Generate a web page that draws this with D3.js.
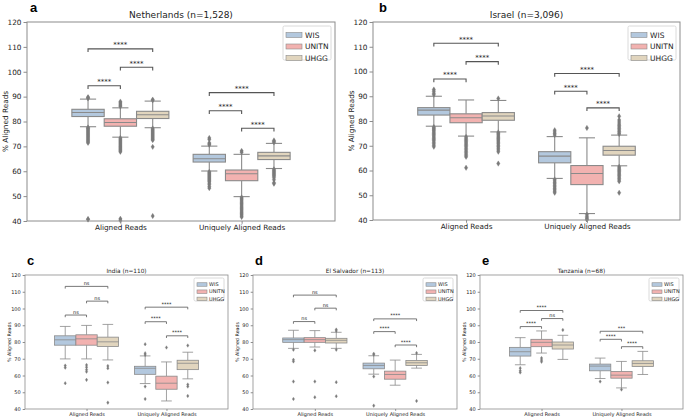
<!DOCTYPE html>
<html><head><meta charset="utf-8">
<script src="https://cdn.jsdelivr.net/npm/d3@7"></script>
<style>body{margin:0;background:#fff}svg{display:block}text{font-family:"DejaVu Sans",sans-serif;fill:#222}</style>
</head><body><svg id="chart" width="685" height="417"></svg>
<script>
const sources=["WIS","UNITN","UHGG"];
const metrics=["Aligned Reads","Uniquely Aligned Reads"];
const yTicks=[40,50,60,70,80,90,100,110,120];
const panelLetters=["a","b","c","d","e"];
const panelTitles=["Netherlands (n=1,528)","Israel (n=3,096)","India (n=110)","El Salvador (n=113)","Tanzania (n=68)"];
const sourceColors=["#b3c8de","#f2b2b0","#e1d5be"];

// [metric, source, whiskerLow, q1, median, q3, whiskerHigh]
const netherlandsBoxes=[
 [0,0,77.9,82.0,83.6,84.9,89.0],[0,1,73.7,78.1,79.6,81.1,85.5],[0,2,77.5,81.2,82.7,84.1,88.2],
 [1,0,60.1,63.7,65.0,66.8,70.1],[1,1,49.8,56.2,59.0,60.5,66.8],[1,2,61.1,64.7,66.2,67.6,71.2]];
const netherlandsOutliers=[
 [89.8,89.5,89.3,77.6,77.3,77.0,76.6,76.2,75.8,75.4,75.0,74.6,74.2,73.8,73.4,73.0,72.6,72.2,71.8,71.4,40.8,40.6],
 [88.0,87.5,87.0,86.5,86.0,73.4,73.0,72.6,72.2,71.8,71.4,71.0,70.6,70.2,69.8,69.4,69.0,68.6,68.2,67.8,40.9,40.3],
 [88.8,88.5,77.2,76.8,76.4,76.0,75.6,75.2,74.8,74.4,74.0,73.6,73.2,72.8,72.5,69.8,42.0],
 [73.4,72.8,71.4,71.0,70.6,59.8,59.4,59.0,58.6,58.2,57.8,57.4,57.0,56.6,56.2,55.8,55.2,54.6,53.8,53.2],
 [68.2,67.6,49.5,49.0,48.5,48.0,47.5,47.0,46.5,46.0,45.5,45.0,44.5,44.0,43.5,43.0,42.5,42.0,41.6],
 [72.4,72.0,71.6,60.8,60.4,60.0,59.6,59.2,58.8,58.4,58.0,57.4,56.6,55.4,55.0]];
const netherlandsBrackets=[[0,0,1,94.4,"****"],[0,1,2,101.8,"****"],[0,0,2,109.2,"****"],
 [1,0,1,84.3,"****"],[1,1,2,77.3,"****"],[1,0,2,91.6,"****"]];

const israelBoxes=[
 [0,0,77.9,82.4,84.4,85.4,90.0],[0,1,73.9,79.3,81.3,82.9,88.5],[0,2,75.6,80.3,82.0,83.4,88.3],
 [1,0,56.8,63.1,65.8,67.6,73.7],[1,1,42.6,54.3,58.8,62.0,73.2],[1,2,61.9,66.2,68.1,69.8,74.3]];
const israelOutliers=[
 [92.7,92.0,91.2,90.6,77.6,77.2,76.8,76.4,76.0,75.5,75.0,74.5,74.0,73.5,73.0,72.5,72.0,71.4,70.8,70.2,69.6],
 [73.6,73.1,72.6,72.1,71.6,71.1,70.6,70.1,69.6,69.0,68.4,67.8,67.2,66.6,66.0,65.5,61.1],
 [89.1,75.4,74.9,74.4,73.9,73.4,72.9,72.4,71.9,71.4,70.8,70.2,69.6,69.0,68.3,67.6,62.8],
 [76.3,75.6,74.9,74.3,56.4,55.8,55.2,54.6,54.0,53.4,52.8,52.2,51.6,51.0],
 [77.2,42.2,41.5,40.9,40.4,40.1],
 [81.9,80.4,79.6,78.8,78.2,77.6,77.0,76.4,75.8,75.2,74.7,61.5,61.0,60.5,60.0,59.5,59.0,58.5,58.0,57.4,56.8,56.2,55.6,51.0]];
const israelBrackets=[[0,0,1,97.0,"****"],[0,1,2,104.0,"****"],[0,0,2,111.4,"****"],
 [1,0,1,92.0,"****"],[1,1,2,85.3,"****"],[1,0,2,99.2,"****"]];

const indiaBoxes=[
 [0,0,69.9,78.1,81.3,83.7,89.3],[0,1,69.9,78.1,81.9,84.3,89.9],[0,2,69.3,77.3,80.1,82.9,90.5],
 [1,0,55.2,60.7,64.3,65.5,71.7],[1,1,44.8,51.8,55.4,59.6,68.1],[1,2,58.0,63.5,67.3,69.1,73.9]];
const indiaOutliers=[[65.9,64.7,55.4],[66.3,65.0,63.5,62.3,57.4],[65.7,64.3,55.8,43.8],
 [78.7,73.3,72.3,53.4,46.0],[76.7],[77.9,54.6,53.4,47.8]];
const indiaBrackets=[[0,0,1,96.1,"ns"],[0,1,2,104.4,"ns"],[0,0,2,113.2,"ns"],
 [1,0,1,92.1,"****"],[1,1,2,83.7,"****"],[1,0,2,100.8,"****"]];

const elSalvadorBoxes=[
 [0,0,76.2,79.8,81.4,82.4,87.0],[0,1,77.0,79.8,81.4,82.6,86.8],[0,2,76.2,79.4,81.0,82.2,85.8],
 [1,0,60.8,64.0,66.0,67.4,71.8],[1,1,54.2,57.8,60.6,62.6,69.2],[1,2,64.4,66.0,67.6,69.0,72.6]];
const elSalvadorOutliers=[[75.4,69.4,68.4,56.4,46.0],[75.0,56.4,47.0],[87.4,86.6,75.4,56.0,47.6],
 [73.0,72.4,59.4,42.0],[],[73.4,44.8]];
const elSalvadorBrackets=[[0,0,1,92.2,"ns"],[0,1,2,100.2,"ns"],[0,0,2,108.0,"ns"],
 [1,0,1,86.2,"****"],[1,1,2,78.2,"****"],[1,0,2,93.8,"****"]];

const tanzaniaBoxes=[
 [0,0,66.4,71.6,74.2,76.8,82.6],[0,1,73.4,77.2,79.8,81.6,86.6],[0,2,69.6,75.8,78.2,80.0,84.0],
 [1,0,58.2,62.8,65.6,66.8,70.4],[1,1,52.6,58.4,60.2,62.4,68.4],[1,2,60.6,65.4,67.2,68.8,74.4]];
const tanzaniaOutliers=[[64.4,62.8,61.8],[70.4,69.2,68.2],[87.2],[56.4],[51.6],[]];
const tanzaniaBrackets=[[0,0,1,89.2,"****"],[0,1,2,94.0,"ns"],[0,0,2,98.8,"****"],
 [1,0,1,81.6,"****"],[1,1,2,77.2,"****"],[1,0,2,86.4,"***"]];

const panelBoxes=[netherlandsBoxes,israelBoxes,indiaBoxes,elSalvadorBoxes,tanzaniaBoxes];
const panelOutliers=[netherlandsOutliers,israelOutliers,indiaOutliers,elSalvadorOutliers,tanzaniaOutliers];
const panelBrackets=[netherlandsBrackets,israelBrackets,indiaBrackets,elSalvadorBrackets,tanzaniaBrackets];

// layout (positions / styles)
const layout=[
 {l:27,r:335,t:22,b:221,big:true,lx:30,ly:12},
 {l:373,r:680,t:22,b:220,big:true,lx:379,ly:12},
 {l:25,r:228,t:275,b:409,big:false,lx:27,ly:265},
 {l:253,r:457,t:275,b:409,big:false,lx:255,ly:265},
 {l:480,r:683,t:275,b:409,big:false,lx:482,ly:265}];
const styleBig={tick:7.3,title:9,legend:7.5,ylab:7.3,sig:7,lw:1.1,mh:2.7,mw:1.7,tl:3.5,xlab:10,ylabOff:22,titleOff:4,
  leg:{w:48,h:34,dx:4,dy:4,row0:9,row:11.5,pw:16,ph:5,px:3,tx:22}};
const styleSmall={tick:5,title:5.8,legend:5,ylab:4.8,sig:5,lw:0.8,mh:1.8,mw:1.2,tl:2.3,xlab:6.5,ylabOff:16,titleOff:2.5,
  leg:{w:30,h:23,dx:4,dy:3,row0:6.5,row:7.2,pw:10,ph:3.5,px:3,tx:15}};
const lineColor="#8a8a8a", frameColor="#8c8c8c";

const svg=d3.select("#chart");
layout.forEach((L,pi)=>{
  const S=L.big?styleBig:styleSmall;
  const x=d3.scaleLinear().domain([-0.77,1.77]).range([L.l,L.r]);
  const y=d3.scaleLinear().domain([40,120]).range([L.b,L.t]);
  const g=svg.append("g");
  const bw=(x(1)-x(0))*0.8/3;
  const bx=(m,s)=>x(m)-(x(1)-x(0))*0.4+s*bw;
  const cid="clip"+pi;
  g.append("clipPath").attr("id",cid).append("rect").attr("x",L.l).attr("y",L.t-2).attr("width",L.r-L.l).attr("height",L.b-L.t+4);
  const pg=g.append("g").attr("clip-path",`url(#${cid})`);
  // boxes
  panelBoxes[pi].forEach((d,i)=>{
    const [m,s,lo,q1,med,q3,hi]=d;
    const x0=bx(m,s), xc=x0+bw/2, cw=bw*0.5;
    const bg=pg.append("g").attr("stroke",lineColor).attr("stroke-width",S.lw).attr("fill","none");
    bg.append("line").attr("x1",xc).attr("x2",xc).attr("y1",y(q3)).attr("y2",y(hi));
    bg.append("line").attr("x1",xc).attr("x2",xc).attr("y1",y(q1)).attr("y2",y(lo));
    bg.append("line").attr("x1",xc-cw/2).attr("x2",xc+cw/2).attr("y1",y(hi)).attr("y2",y(hi));
    bg.append("line").attr("x1",xc-cw/2).attr("x2",xc+cw/2).attr("y1",y(lo)).attr("y2",y(lo));
    bg.append("rect").attr("x",x0).attr("width",bw).attr("y",y(q3)).attr("height",y(q1)-y(q3)).attr("fill",sourceColors[s]);
    bg.append("line").attr("x1",x0).attr("x2",x0+bw).attr("y1",y(med)).attr("y2",y(med));
    const outs=panelOutliers[pi][m*3+s];
    pg.selectAll(null).data(outs).enter().append("path")
      .attr("d",v=>`M${xc},${y(v)-S.mh}L${xc+S.mw},${y(v)}L${xc},${y(v)+S.mh}L${xc-S.mw},${y(v)}Z`)
      .attr("fill","#7a7a7a").attr("stroke","#7a7a7a").attr("stroke-width",0.3);
  });
  // frame
  g.append("rect").attr("x",L.l).attr("y",L.t).attr("width",L.r-L.l).attr("height",L.b-L.t)
   .attr("fill","none").attr("stroke",frameColor).attr("stroke-width",L.big?1:0.8);
  // y axis
  const ya=g.append("g").attr("transform",`translate(${L.l},0)`)
    .call(d3.axisLeft(y).tickValues(yTicks).tickSize(S.tl).tickPadding(2));
  ya.select(".domain").remove();
  ya.selectAll("line").attr("stroke",frameColor);
  ya.selectAll("text").attr("font-size",S.tick).attr("fill","#222").style("font-family","DejaVu Sans");
  // x axis
  const xa=g.append("g").attr("transform",`translate(0,${L.b})`)
    .call(d3.axisBottom(x).tickValues([0,1]).tickFormat((d)=>metrics[d]).tickSize(S.tl*0.8).tickPadding(1.5));
  xa.select(".domain").remove();
  xa.selectAll("line").attr("stroke",frameColor);
  xa.selectAll("text").attr("font-size",S.tick).attr("fill","#222").style("font-family","DejaVu Sans");
  // title, y label, letter
  g.append("text").attr("x",(L.l+L.r)/2).attr("y",L.t-S.titleOff).attr("text-anchor","middle").attr("font-size",S.title).text(panelTitles[pi]);
  g.append("text").attr("transform",`translate(${L.l-S.ylabOff},${(L.t+L.b)/2}) rotate(-90)`).attr("text-anchor","middle")
    .attr("dy","0.35em").attr("font-size",S.ylab).text("% Aligned Reads");
  g.append("text").attr("x",L.lx).attr("y",L.ly).attr("font-size",13).attr("font-weight","bold")
    .style("font-family","Liberation Sans, Arial, sans-serif").style("fill","#000").text(panelLetters[pi]);
  // brackets
  const th=1.3;
  panelBrackets[pi].forEach(([m,s1,s2,yv,lab])=>{
    const xa1=bx(m,s1)+bw/2, xa2=bx(m,s2)+bw/2;
    g.append("path").attr("d",`M${xa1},${y(yv-th)}L${xa1},${y(yv)}L${xa2},${y(yv)}L${xa2},${y(yv-th)}`)
      .attr("fill","none").attr("stroke","#555").attr("stroke-width",L.big?1.1:0.8);
    g.append("text").attr("x",(xa1+xa2)/2).attr("y",y(yv)-(lab==="ns"?1.2:1.5)).attr("text-anchor","middle")
      .attr("font-size",S.sig).text(lab);
  });
  // legend
  const G=S.leg;
  const lx0=L.r-G.dx-G.w, ly0=L.t+G.dy;
  const lg=g.append("g");
  lg.append("rect").attr("x",lx0).attr("y",ly0).attr("width",G.w).attr("height",G.h).attr("rx",1.5)
    .attr("fill","#fff").attr("fill-opacity",0.8).attr("stroke","#d0d0d0").attr("stroke-width",0.8);
  sources.forEach((s,i)=>{
    const cy=ly0+G.row0+i*G.row;
    lg.append("rect").attr("x",lx0+G.px).attr("y",cy-G.ph/2).attr("width",G.pw).attr("height",G.ph)
      .attr("fill",sourceColors[i]).attr("stroke",lineColor).attr("stroke-width",0.6);
    lg.append("text").attr("x",lx0+G.tx).attr("y",cy).attr("dy","0.35em").attr("font-size",S.legend).text(s);
  });
});
</script></body></html>
